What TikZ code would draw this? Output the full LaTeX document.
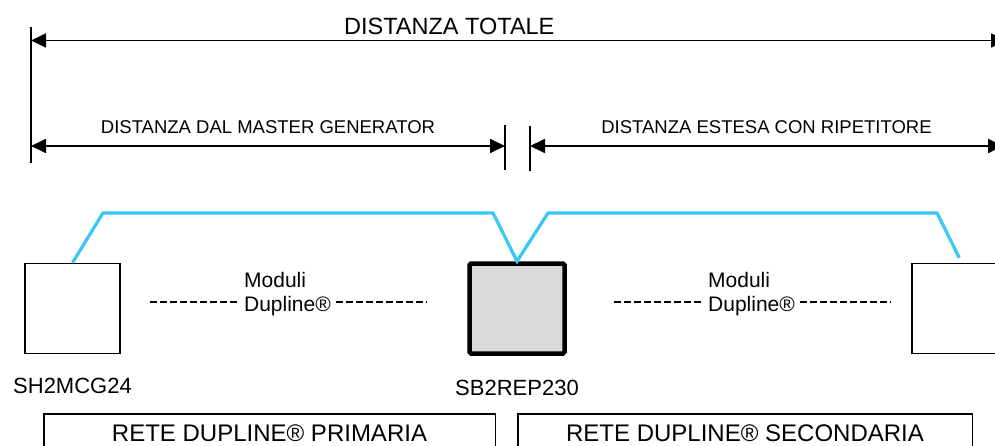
\documentclass[tikz,border=0pt]{standalone}
\usepackage{fontspec}
\setmainfont{Liberation Sans}
\usepackage{xcolor}
\usetikzlibrary{arrows.meta,positioning}
\definecolor{dupblue}{RGB}{56,200,245}
\definecolor{repgray}{RGB}{217,217,217}
\tikzset{%
	dimline/.style  = {line width=1.8pt, {Triangle[length=15pt,width=14pt]}-{Triangle[length=15pt,width=14pt]}},
	dimtick/.style  = {line width=1.8pt},
	device/.style   = {draw, rectangle, line width=1.5pt, minimum width=95pt, minimum height=90pt}, % Module
	repeater/.style = {device, line width=4.5pt, fill=repgray, rounded corners=1.5pt}, % Repeater
	devlabel/.style = {font=\fontsize{22}{26}\selectfont, inner sep=0pt},
	modtext/.style  = {align=left, font=\fontsize{21}{24}\selectfont, inner sep=5pt},
	dashline/.style = {line width=1.8pt, dash pattern=on 7pt off 3pt},
	wire/.style     = {dupblue, line width=3.2pt}, % Dupline bus
	netbox/.style   = {draw, rectangle, line width=1.5pt, anchor=north, inner ysep=10.5pt, text depth=0pt, font=\fontsize{24}{28}\selectfont},
	dimtext/.style  = {anchor=base, inner sep=0pt, font=\fontsize{18.5}{22}\selectfont},
}
\begin{document}
\begin{tikzpicture}[x=1pt,y=-1pt]
		\useasboundingbox (0,0) rectangle (995,446);
		
		% distances
		\coordinate (ltop) at (31,27);
		\coordinate (lbot) at (31,163);
		\coordinate (mtop) at (505,125);
		\coordinate (mbot) at (505,170);
		\coordinate (ntop) at (530,126);
		\coordinate (nbot) at (530,171);
		\coordinate (rtot) at (1006,40.5);
		\coordinate (rext) at (1003,146);
		\draw[dimtick] (ltop) -- (lbot);
		\draw[dimtick] (mtop) -- (mbot);
		\draw[dimtick] (ntop) -- (nbot);
		\draw[dimline] (ltop |- rtot) -- node[dimtext,pos=0.429,yshift=5.5pt,font=\fontsize{23.5}{28}\selectfont] (ttot) {DISTANZA TOTALE} (rtot);
		\draw[dimline] (lbot |- rext) -- node[dimtext,yshift=12pt] (tmaster) {DISTANZA DAL MASTER GENERATOR} (mtop |- rext);
		\draw[dimline] (ntop |- rext) -- node[dimtext,yshift=12pt] (textended) {DISTANZA ESTESA CON RIPETITORE} (rext);
		
		% modules
		\node[device] (mcg) at (72.5,308.5) {};
		\node[repeater] (rep) at (517,308.5) {};
		\node[device] (rbox) at (959.25,308.5) {};
		\node[devlabel, below=24pt of mcg] (lmcg) {SH2MCG24};
		\node[devlabel, below=24pt of rep] (lrep) {SB2REP230};
		
		\draw[wire] (mcg.north) -- (103,213) -- (493,213) -- (rep.north) -- (548,213) -- (937,213) -- ([yshift=5pt]rbox.north);
		
		\node[modtext] (mod1) at (287.5,294.5) {Moduli\\Dupline®};
		\node[modtext] (mod2) at (751.5,294.5) {Moduli\\Dupline®};
		\coordinate (d1a) at (150,302);
		\coordinate (d1b) at (427,302);
		\coordinate (d2a) at (614,302);
		\coordinate (d2b) at (891,302);
		\draw[dashline] (d1a) -- (d1a -| mod1.west);
		\draw[dashline] (mod1.east |- d1b) -- (d1b);
		\draw[dashline] (d2a) -- (d2a -| mod2.west);
		\draw[dashline] (mod2.east |- d2b) -- (d2b);
		
		% networks
		\node[netbox, minimum width=451.5pt] (prim) at (269.5,413) {RETE DUPLINE® PRIMARIA};
		\node[netbox, minimum width=454.5pt] (sec) at (745,413) {RETE DUPLINE® SECONDARIA};
\end{tikzpicture}
\end{document}
